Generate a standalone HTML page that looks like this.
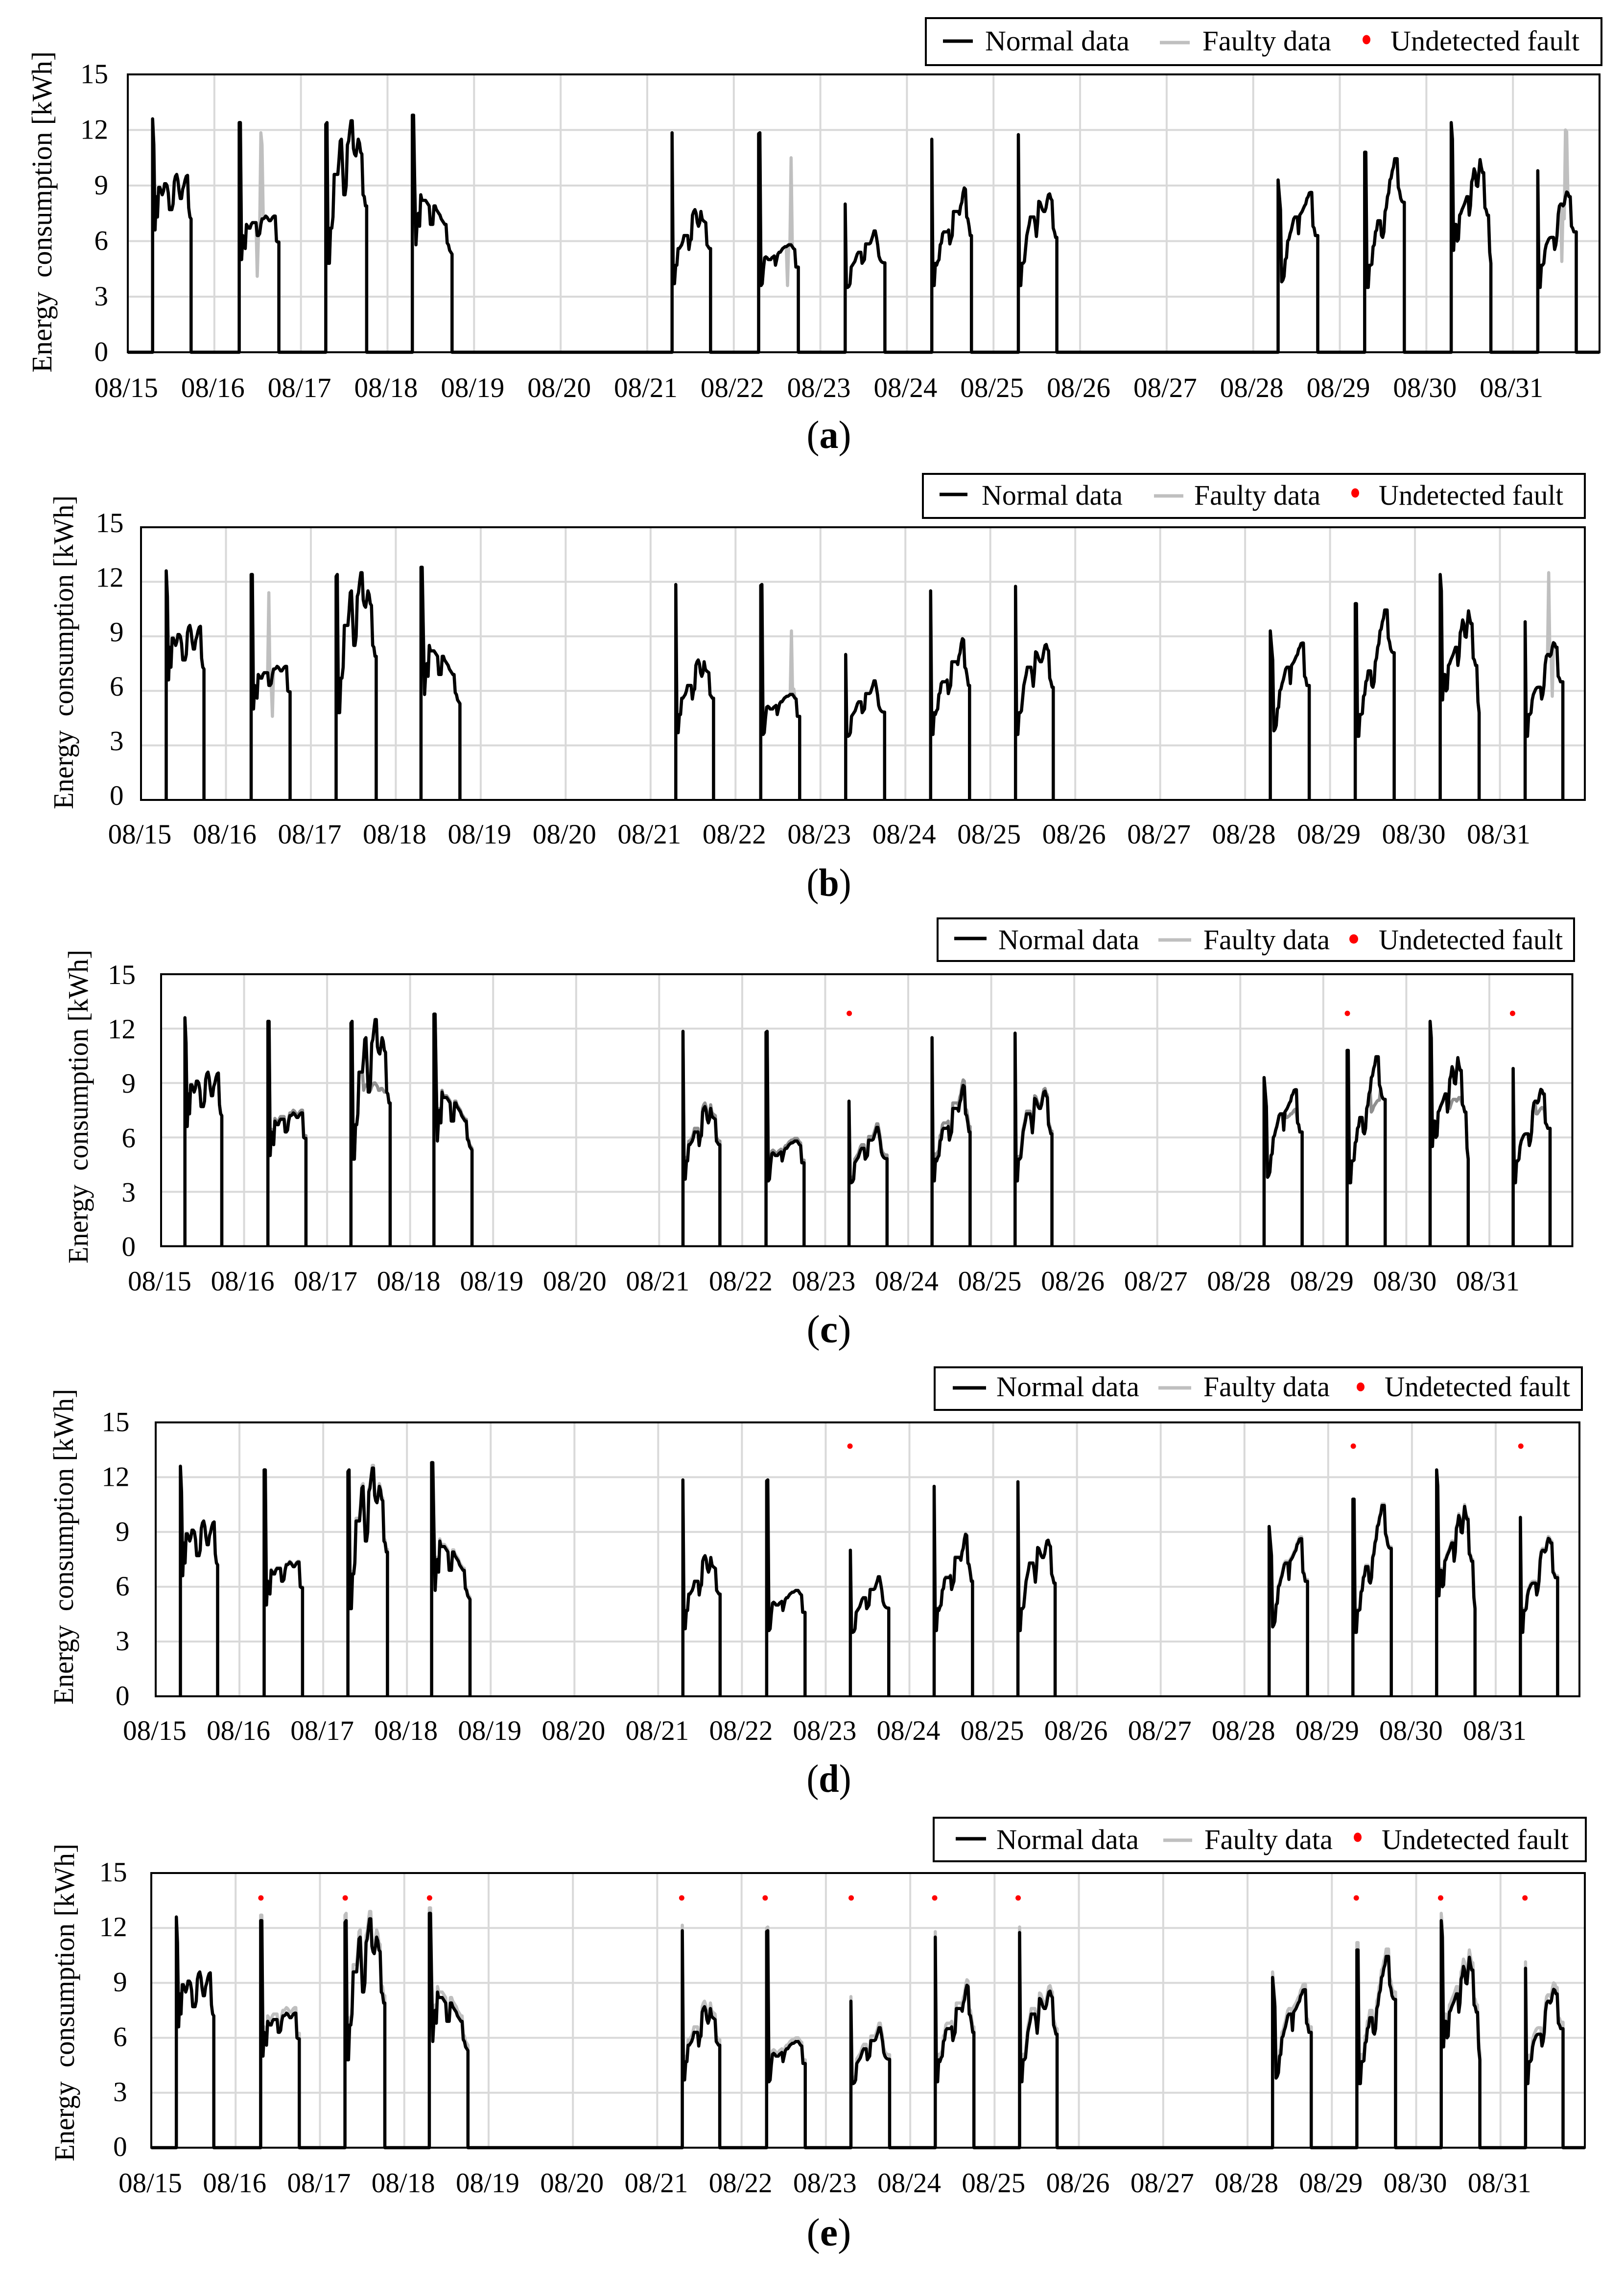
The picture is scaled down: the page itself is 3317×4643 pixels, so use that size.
<!DOCTYPE html>
<html lang="en">
<head>
<meta charset="utf-8">
<title>Energy consumption: normal and faulty data</title>
<style>
html,body{margin:0;padding:0;background:#fff;}
svg{display:block;}
text{font-family:"Liberation Serif",serif;fill:#000;white-space:pre;}
.lg{font-size:58px;}
.yt{font-size:58px;}
.cap{font-size:80px;}
.tick{font-size:57px;}
</style>
</head>
<body>
<svg id="figure" xmlns="http://www.w3.org/2000/svg" width="3317" height="4643" viewBox="0 0 3317 4643">
<rect x="0" y="0" width="3317" height="4643" fill="#fff"/>

<g>
  <g id="plot-a"></g>
  <text class="yt" transform="rotate(-90 105 761)" x="105" y="761" textLength="656" lengthAdjust="spacingAndGlyphs">Energy  consumption [kWh]</text>
  <g>
    <rect x="1891" y="37" width="1380" height="96" fill="#fff" stroke="#000" stroke-width="4"/>
    <line x1="1926" x2="1987" y1="84" y2="84" stroke="#000" stroke-width="7"/>
    <text class="lg" x="2012" y="103" textLength="295" lengthAdjust="spacingAndGlyphs">Normal data</text>
    <line x1="2369" x2="2430" y1="87" y2="87" stroke="#bfbfbf" stroke-width="7"/>
    <text class="lg" x="2456" y="103" textLength="263" lengthAdjust="spacingAndGlyphs">Faulty data</text>
    <ellipse cx="2791" cy="81" rx="8" ry="9.5" fill="#ff0000"/>
    <text class="lg" x="2840" y="103" textLength="386" lengthAdjust="spacingAndGlyphs">Undetected fault</text>
  </g>
  <text class="cap" x="1693" y="915" text-anchor="middle" textLength="91" lengthAdjust="spacingAndGlyphs">(<tspan font-weight="bold">a</tspan>)</text>
</g>

<g>
  <g id="plot-b"></g>
  <text class="yt" transform="rotate(-90 149 1653)" x="149" y="1653" textLength="641" lengthAdjust="spacingAndGlyphs">Energy  consumption [kWh]</text>
  <g>
    <rect x="1885" y="968" width="1352" height="90" fill="#fff" stroke="#000" stroke-width="4"/>
    <line x1="1919" x2="1976" y1="1010" y2="1010" stroke="#000" stroke-width="7"/>
    <text class="lg" x="2005" y="1031" textLength="288" lengthAdjust="spacingAndGlyphs">Normal data</text>
    <line x1="2357" x2="2417" y1="1013" y2="1013" stroke="#bfbfbf" stroke-width="7"/>
    <text class="lg" x="2439" y="1031" textLength="258" lengthAdjust="spacingAndGlyphs">Faulty data</text>
    <ellipse cx="2768" cy="1007" rx="8" ry="9.5" fill="#ff0000"/>
    <text class="lg" x="2816" y="1031" textLength="377" lengthAdjust="spacingAndGlyphs">Undetected fault</text>
  </g>
  <text class="cap" x="1693" y="1830" text-anchor="middle" textLength="91" lengthAdjust="spacingAndGlyphs">(<tspan font-weight="bold">b</tspan>)</text>
</g>

<g>
  <g id="plot-c"></g>
  <text class="yt" transform="rotate(-90 179 2581)" x="179" y="2581" textLength="641" lengthAdjust="spacingAndGlyphs">Energy  consumption [kWh]</text>
  <g>
    <rect x="1915" y="1876" width="1300" height="87" fill="#fff" stroke="#000" stroke-width="4"/>
    <line x1="1949" x2="2015" y1="1917" y2="1917" stroke="#000" stroke-width="7"/>
    <text class="lg" x="2039" y="1939" textLength="288" lengthAdjust="spacingAndGlyphs">Normal data</text>
    <line x1="2366" x2="2433" y1="1920" y2="1920" stroke="#bfbfbf" stroke-width="7"/>
    <text class="lg" x="2458" y="1939" textLength="258" lengthAdjust="spacingAndGlyphs">Faulty data</text>
    <ellipse cx="2765" cy="1918" rx="9" ry="9.5" fill="#ff0000"/>
    <text class="lg" x="2816" y="1939" textLength="376" lengthAdjust="spacingAndGlyphs">Undetected fault</text>
  </g>
  <text class="cap" x="1693" y="2742" text-anchor="middle" textLength="91" lengthAdjust="spacingAndGlyphs">(<tspan font-weight="bold">c</tspan>)</text>
</g>

<g>
  <g id="plot-d"></g>
  <text class="yt" transform="rotate(-90 149 3482)" x="149" y="3482" textLength="645" lengthAdjust="spacingAndGlyphs">Energy  consumption [kWh]</text>
  <g>
    <rect x="1909" y="2793" width="1322" height="87" fill="#fff" stroke="#000" stroke-width="4"/>
    <line x1="1946" x2="2014" y1="2835" y2="2835" stroke="#000" stroke-width="7"/>
    <text class="lg" x="2035" y="2852" textLength="292" lengthAdjust="spacingAndGlyphs">Normal data</text>
    <line x1="2366" x2="2433" y1="2835" y2="2835" stroke="#bfbfbf" stroke-width="7"/>
    <text class="lg" x="2458" y="2852" textLength="258" lengthAdjust="spacingAndGlyphs">Faulty data</text>
    <ellipse cx="2779" cy="2833" rx="8" ry="9" fill="#ff0000"/>
    <text class="lg" x="2828" y="2852" textLength="379" lengthAdjust="spacingAndGlyphs">Undetected fault</text>
  </g>
  <text class="cap" x="1693" y="3660" text-anchor="middle" textLength="91" lengthAdjust="spacingAndGlyphs">(<tspan font-weight="bold">d</tspan>)</text>
</g>

<g>
  <g id="plot-e"></g>
  <text class="yt" transform="rotate(-90 151 4415)" x="151" y="4415" textLength="649" lengthAdjust="spacingAndGlyphs">Energy  consumption [kWh]</text>
  <g>
    <rect x="1907" y="3713" width="1332" height="89" fill="#fff" stroke="#000" stroke-width="4"/>
    <line x1="1952" x2="2014" y1="3756" y2="3756" stroke="#000" stroke-width="7"/>
    <text class="lg" x="2035" y="3777" textLength="291" lengthAdjust="spacingAndGlyphs">Normal data</text>
    <line x1="2376" x2="2435" y1="3759" y2="3759" stroke="#bfbfbf" stroke-width="7"/>
    <text class="lg" x="2460" y="3777" textLength="262" lengthAdjust="spacingAndGlyphs">Faulty data</text>
    <ellipse cx="2773" cy="3753" rx="8" ry="9.5" fill="#ff0000"/>
    <text class="lg" x="2822" y="3777" textLength="382" lengthAdjust="spacingAndGlyphs">Undetected fault</text>
  </g>
  <text class="cap" x="1693" y="4587" text-anchor="middle" textLength="91" lengthAdjust="spacingAndGlyphs">(<tspan font-weight="bold">e</tspan>)</text>
</g>
</svg>

<script>
// ---- chart data ----
const categories = ['08/15','08/16','08/17','08/18','08/19','08/20','08/21','08/22','08/23','08/24','08/25','08/26','08/27','08/28','08/29','08/30','08/31'];
const yTicks = [0,3,6,9,12,15];
const workDays = [0,1,2,3,6,7,8,9,10,13,14,15,16];

// normal energy consumption per working day [kWh], one sample every 20 minutes
const day0815 = [12.6,11.2,6.6,8.4,7.3,8.9,8.9,8.7,8.5,8.7,9.1,9.1,9.0,8.6,7.7,7.7,7.7,8.0,9.2,9.5,9.6,9.3,8.7,8.3,8.3,8.8,9.0,9.3,9.5,9.55,7.8,7.3,7.2];
const day0816 = [12.4,12.4,5.0,6.3,6.2,5.6,6.9,6.8,6.7,6.7,6.9,7.0,7.0,7.0,7.0,6.3,6.3,6.4,6.9,7.2,7.2,7.25,7.35,7.3,7.2,7.1,7.1,7.2,7.3,7.35,7.35,6.0,5.95,5.95];
const day0817 = [12.3,12.4,4.8,4.8,6.7,6.7,7.3,9.6,9.6,9.6,9.6,10.4,11.4,11.5,10.0,8.5,8.5,9.0,11.2,11.4,12.0,12.5,12.5,11.0,10.7,10.6,11.0,11.5,11.3,10.8,10.7,8.5,8.4,7.9,7.9];
const day0818 = [12.8,12.8,9.0,5.8,7.0,7.5,6.8,8.5,8.2,8.2,8.2,8.2,8.1,8.0,7.9,6.9,6.9,6.9,7.9,7.9,7.7,7.6,7.5,7.4,7.2,7.1,7.0,6.9,6.9,5.9,5.8,5.5,5.4,5.3];
const day0821 = [11.85,3.7,3.7,4.7,4.7,5.6,5.6,5.7,5.8,6.0,6.3,6.3,6.3,6.3,5.55,6.0,6.1,7.4,7.6,7.7,7.5,7.0,6.8,7.0,7.6,7.2,7.1,7.05,7.0,5.8,5.7,5.6,5.6];
const day0822 = [11.8,11.85,3.6,3.7,4.5,5.1,5.15,5.1,5.0,5.0,5.0,5.1,5.15,5.2,4.7,5.0,5.3,5.4,5.4,5.5,5.6,5.65,5.7,5.7,5.75,5.8,5.8,5.8,5.7,5.6,5.55,4.6,4.6,4.6];
const day0823 = [8.0,3.5,3.5,3.55,3.7,4.6,4.7,4.8,4.9,5.1,5.3,5.4,5.4,5.4,4.8,4.9,5.0,5.85,5.85,5.85,5.85,5.9,6.1,6.3,6.55,6.55,6.2,5.8,5.2,5.0,4.9,4.85,4.83,4.83];
const day0824 = [11.5,3.6,3.6,4.8,4.7,4.9,5.0,5.8,5.9,6.4,6.5,6.5,6.5,6.5,6.6,5.85,6.1,6.3,7.6,7.6,7.6,7.6,7.6,7.45,7.9,8.1,8.6,8.87,8.8,7.3,7.2,6.8,6.3,6.3];
const day0825 = [11.75,3.6,3.6,4.8,4.8,4.9,5.6,6.3,6.6,6.9,7.3,7.3,7.3,7.3,6.9,6.25,7.0,8.15,8.1,7.9,7.7,7.6,7.6,7.8,8.2,8.5,8.55,8.3,8.2,6.7,6.5,6.2,6.2];
const day0828 = [9.3,8.5,7.7,3.8,3.9,4.1,5.0,5.1,6.0,6.1,6.4,6.6,6.9,7.2,7.3,7.3,7.3,6.4,7.4,7.5,7.6,7.75,7.9,8.0,8.3,8.4,8.6,8.63,8.63,6.8,6.7,6.3,6.3,6.3];
const day0829 = [10.8,10.8,3.5,3.5,4.7,4.7,4.75,5.7,5.8,6.5,6.6,7.1,7.1,7.1,6.3,6.2,6.5,7.6,7.8,8.4,8.6,9.3,9.4,9.8,10.0,10.45,10.45,10.45,8.9,8.7,8.3,8.15,8.1,8.1];
const day0830 = [12.4,11.5,5.5,6.9,6.9,6.0,6.1,7.4,7.5,7.7,7.85,8.0,8.2,8.4,8.4,7.4,7.9,9.2,9.4,9.9,9.7,9.0,8.95,9.7,10.4,10.0,9.7,9.7,7.8,7.7,7.4,7.4,5.4,4.8];
const day0831 = [9.8,3.5,3.5,4.7,4.7,4.8,5.5,5.8,5.95,6.1,6.18,6.2,6.2,6.2,5.55,5.8,6.3,7.45,7.9,8.0,8.0,7.9,8.0,8.4,8.65,8.6,8.4,8.4,6.8,6.7,6.5,6.5,6.5];
const normalDays = [day0815,day0816,day0817,day0818,day0821,day0822,day0823,day0824,day0825,day0828,day0829,day0830,day0831];

// faulty samples replacing normal ones: [working-day index, sample index, kWh]
const faultsA = [[1,15,4.1],[1,18,11.85],[1,19,11.2],[5,24,3.6],[5,27,10.5],[12,20,4.9],[12,22,7.2],[12,23,12.0],[12,24,11.9]];
const faultsB = [[1,15,11.4],[1,18,4.6],[5,26,9.3],[5,28,6.1],[12,20,12.5],[12,23,5.7]];
const faultsC = [[2,11,8.6],[2,12,8.8],[2,13,8.9],[2,14,8.9],[2,15,8.7],[2,16,8.6],[2,17,8.6],[2,18,8.8],[2,19,8.9],[2,20,9.0],[2,21,9.0],[2,22,8.9],[2,23,8.8],[2,24,8.6],[2,25,8.6],[2,26,8.7],[2,27,8.7],[2,28,8.6],[2,29,8.5],[2,30,8.5],
  [9,19,7.1],[9,20,7.1],[9,21,7.15],[9,22,7.2],[9,23,7.3],[9,24,7.3],[9,25,7.4],[9,26,7.5],[9,27,7.55],[9,28,7.3],
  [10,21,7.4],[10,22,7.5],[10,23,7.7],[10,24,7.8],[10,25,7.9],[10,26,8.0],[10,27,8.05],[10,28,8.05],
  [11,17,7.6],[11,18,7.8],[11,19,8.0],[11,20,8.1],[11,21,8.1],[11,22,8.1],[11,23,8.0],[11,24,8.1],[11,25,8.2],[11,26,8.2],[11,27,8.0],
  [12,20,7.3],[12,21,7.3],[12,22,7.4],[12,23,7.5],[12,24,7.6],[12,25,7.65],[12,26,7.6],[12,27,7.5]];
const faultsD = [];
const faultsE = [];

// constant fault offset per working day [kWh]
const biasA = [0,0,0,0,0,0,0,0,0,0,0,0,0];
const biasB = [0,0,0,0,0,0,0,0,0,0,0,0,0];
const biasC = [0,0.15,0,0.1,0.2,0.15,0.2,0.3,0.15,0,0,0,0];
const biasD = [0,0.05,0.15,0.12,0,0,0,0.05,0,0.1,0.08,0.1,0.1];
const biasE = [0,0.3,0.4,0.3,0.3,0.2,0.25,0.3,0.3,0.3,0.4,0.4,0.35];

// undetected faults: day positions and plotted level
const undetectedC = [8.29,14.29,16.28];
const undetectedD = [8.29,14.3,16.3];
const undetectedE = [1.3,2.3,3.3,6.29,7.28,8.3,9.29,10.28,14.29,15.29,16.29];
const undetectedLevelC = 12.84;
const undetectedLevelD = 13.7;
const undetectedLevelE = 13.64;

const sampleDays = 1/72;

// ---- layout per panel ----
const panels = [
  {key:'a',L:261,R:3267,T:152,B:719.5,off:0.287,base:true, spikeBias:false,faults:faultsA,bias:biasA,und:[],level:0,gray:'#bfbfbf',ytx:221,ytdy:-2,xtc:-3,xty:811},
  {key:'b',L:288,R:3237,T:1077,B:1634,off:0.297,base:false,spikeBias:false,faults:faultsB,bias:biasB,und:[],level:0,gray:'#bfbfbf',ytx:252.5,ytdy:-10,xtc:-2.5,xty:1723},
  {key:'c',L:329,R:3211.5,T:1990,B:2545.6,off:0.287,base:false,spikeBias:false,faults:faultsC,bias:biasC,und:undetectedC,level:undetectedLevelC,gray:'#8f8f8f',ytx:277,ytdy:0,xtc:-3,xty:2636},
  {key:'d',L:318,R:3226,T:2905.5,B:3465,off:0.295,base:false,spikeBias:false,faults:faultsD,bias:biasD,und:undetectedD,level:undetectedLevelD,gray:'#bfbfbf',ytx:264.5,ytdy:-2,xtc:-2,xty:3554},
  {key:'e',L:309,R:3237,T:3826,B:4387,off:0.297,base:true, spikeBias:true, faults:faultsE,bias:biasE,und:undetectedE,level:undetectedLevelE,gray:'#bfbfbf',ytx:259.6,ytdy:-3,xtc:-2,xty:4478}
];

const NS = 'http://www.w3.org/2000/svg';
function add(parent, tag, attrs){
  const el = document.createElementNS(NS, tag);
  for (const k in attrs) el.setAttribute(k, attrs[k]);
  parent.appendChild(el);
  return el;
}

function buildPath(p, xAxis, yAxis, useFaults){
  let d = '';
  if (p.base) d += 'M' + xAxis(0) + ' ' + yAxis(0);
  workDays.forEach(function(day, k){
    const start = day + p.off;
    const vals = normalDays[k].slice();
    let b = 0;
    if (useFaults){
      p.faults.forEach(function(f){ if (f[0] === k) vals[f[1]] = f[2]; });
      b = p.bias[k];
    }
    d += (p.base ? 'L' : 'M') + xAxis(start).toFixed(1) + ' ' + yAxis(0).toFixed(1);
    vals.forEach(function(v, i){
      const shift = (i < 2 && !p.spikeBias) ? 0 : b;
      d += 'L' + xAxis(start + i * sampleDays).toFixed(1) + ' ' + yAxis(v + shift).toFixed(1);
    });
    d += 'L' + xAxis(start + (vals.length - 1) * sampleDays).toFixed(1) + ' ' + yAxis(0).toFixed(1);
  });
  if (p.base) d += 'L' + xAxis(categories.length) + ' ' + yAxis(0);
  return d;
}

panels.forEach(function(p){
  const g = document.getElementById('plot-' + p.key);
  const xAxis = function(t){ return p.L + (p.R - p.L) * t / categories.length; };
  const yAxis = function(v){ return p.B - (p.B - p.T) * v / 15; };

  // gridlines
  yTicks.forEach(function(v){
    if (v === 0 || v === 15) return;
    const el = add(g, 'line', {x1:p.L, x2:p.R, y1:yAxis(v), y2:yAxis(v), stroke:'#d9d9d9', 'stroke-width':4});
    
    
  });
  categories.forEach(function(c, i){
    if (i === 0) return;
    const el = add(g, 'line', {x1:xAxis(i), x2:xAxis(i), y1:p.T, y2:p.B, stroke:'#d9d9d9', 'stroke-width':4});
    
    
  });

  // series
  const faulty = add(g, 'path', {d:buildPath(p, xAxis, yAxis, true), fill:'none', stroke:p.gray, 'stroke-width':6.5, 'stroke-linejoin':'round'});
  
  
  const normal = add(g, 'path', {d:buildPath(p, xAxis, yAxis, false), fill:'none', stroke:'#000', 'stroke-width':6.5, 'stroke-linejoin':'round'});
  
  

  // undetected fault markers
  p.und.forEach(function(t){
    const el = add(g, 'circle', {cx:xAxis(t), cy:yAxis(p.level), r:5.5, fill:'#ff0000'});
    
    
  });

  // plot frame
  const frame = add(g, 'rect', {x:p.L, y:p.T, width:p.R - p.L, height:p.B - p.T, fill:'none', stroke:'#000', 'stroke-width':4});
  
  

  // tick labels
  yTicks.forEach(function(v){
    const el = add(g, 'text', {x:p.ytx, y:yAxis(v) + 20 + p.ytdy, 'text-anchor':'end', 'class':'tick'});
    el.textContent = String(v);
    
    
  });
  categories.forEach(function(c, i){
    const el = add(g, 'text', {x:xAxis(i) + p.xtc, y:p.xty, 'text-anchor':'middle', 'class':'tick'});
    el.textContent = c;
    
    
  });
});
</script>
</body>
</html>
